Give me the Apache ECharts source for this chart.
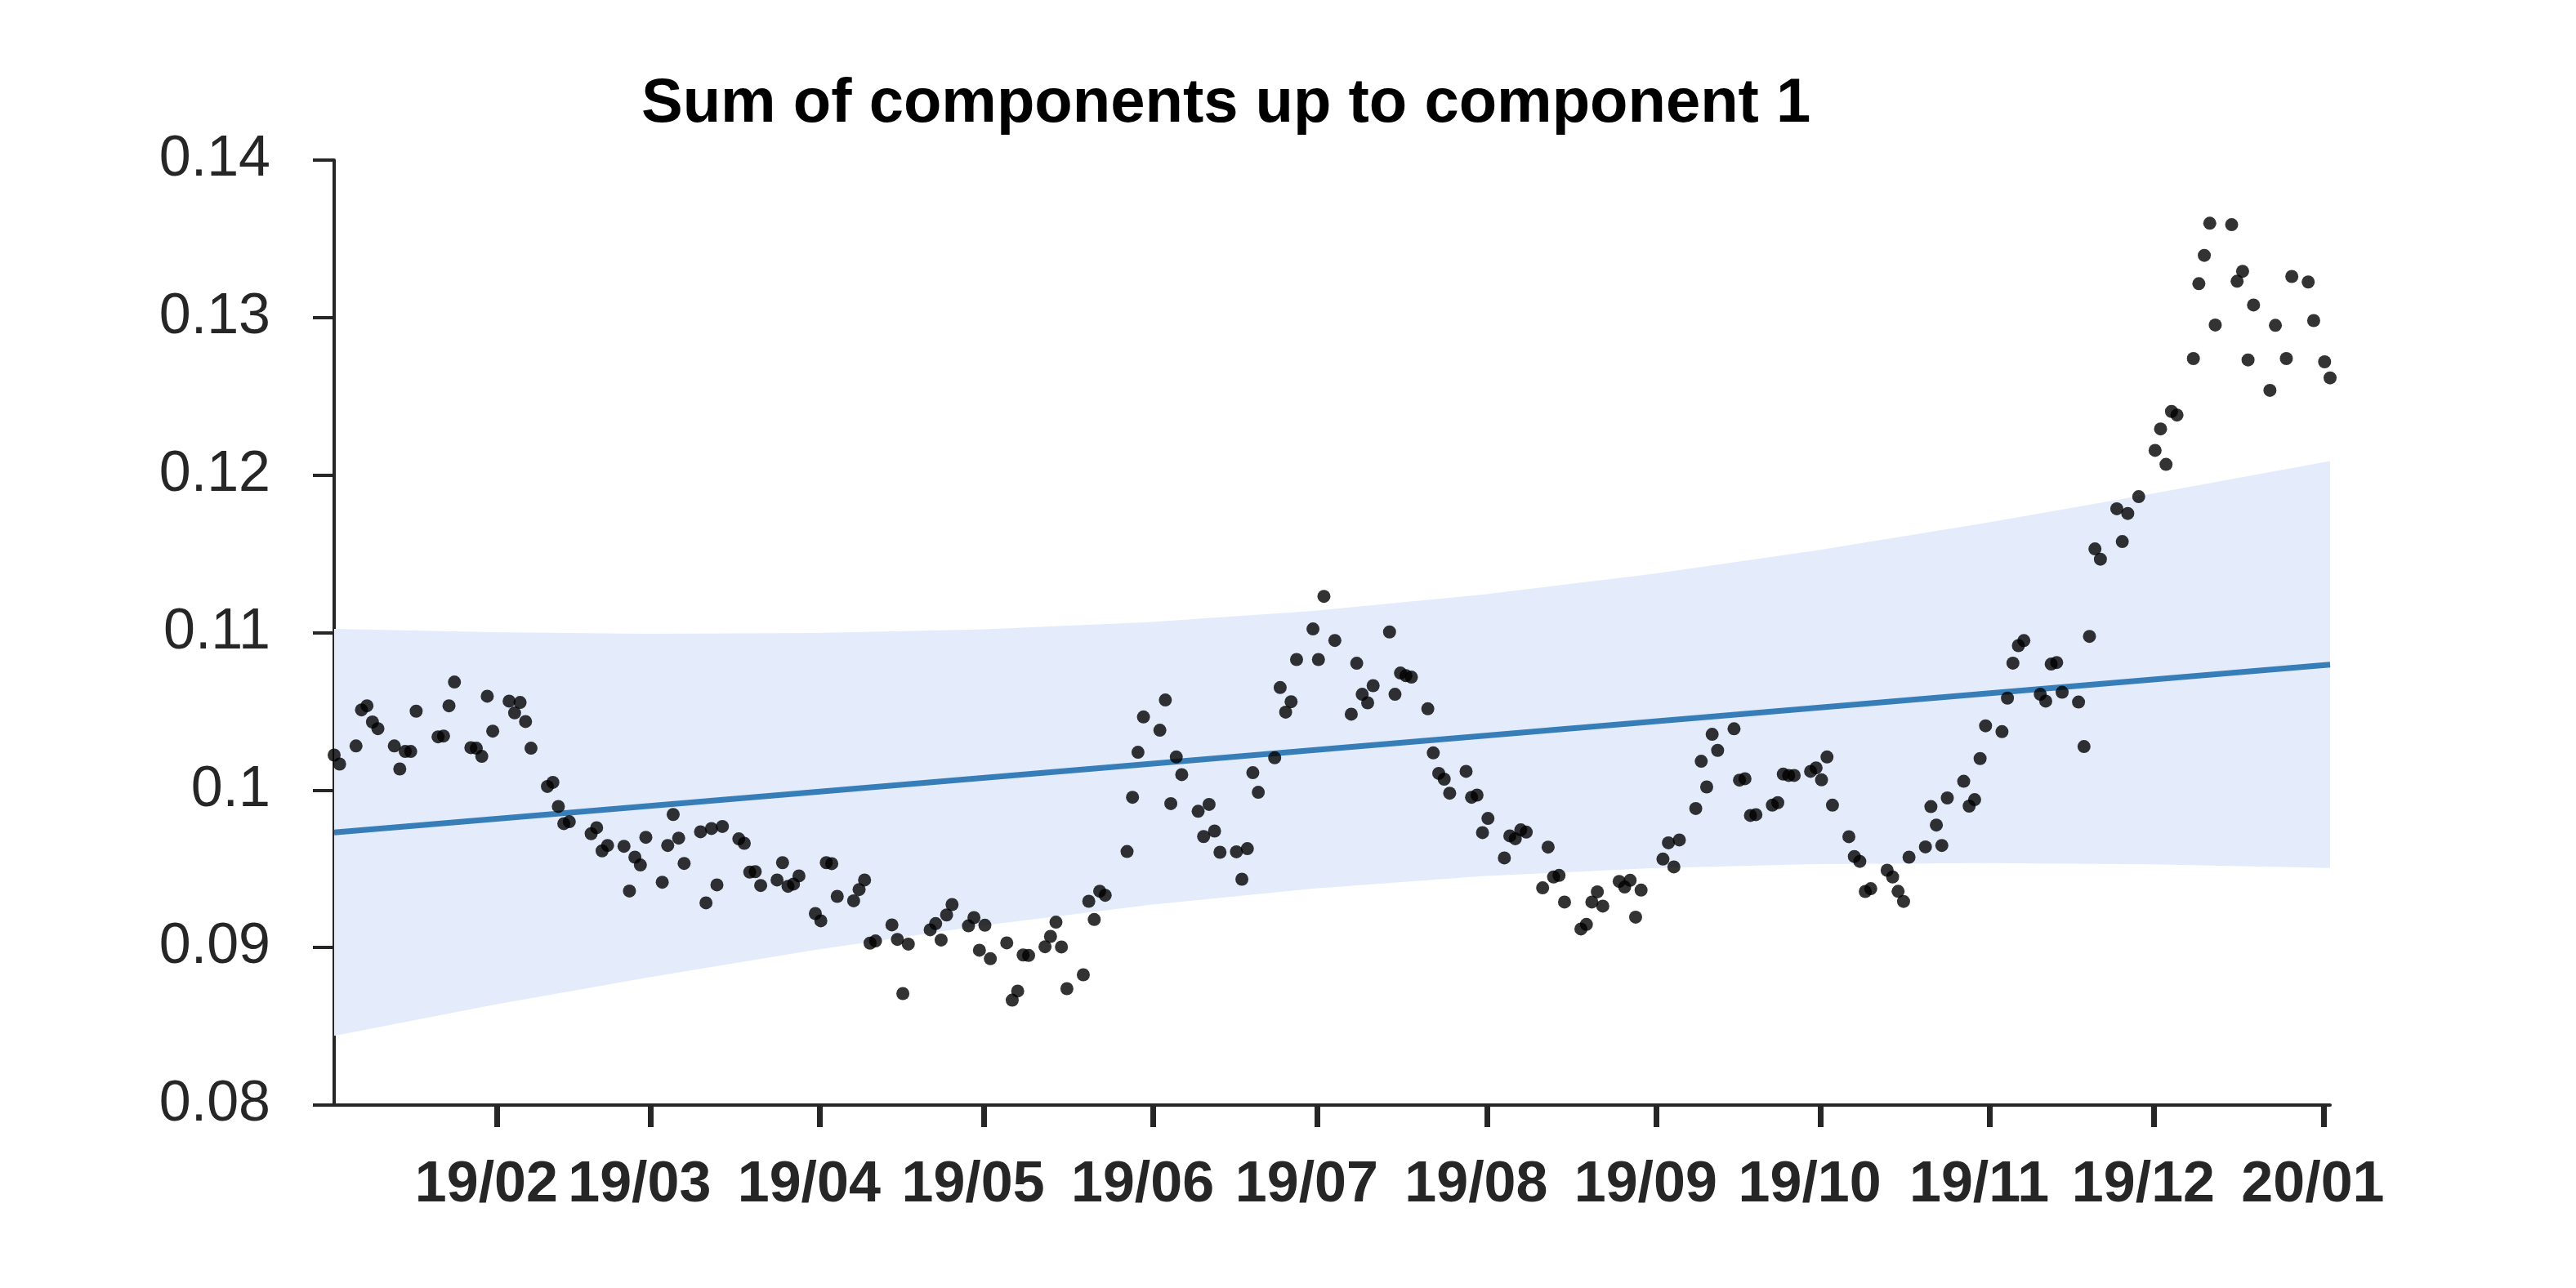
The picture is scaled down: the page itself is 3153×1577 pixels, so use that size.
<!DOCTYPE html>
<html>
<head>
<meta charset="utf-8">
<script src="https://cdn.jsdelivr.net/npm/echarts@6.0.0/dist/echarts.min.js"></script>
<style>
html, body { margin: 0; padding: 0; background: #ffffff; }
#chart { width: 3153px; height: 1577px; }
</style>
</head>
<body>
<div id="chart"></div>
<script>
const chartTitle = 'Sum of components up to component 1';

// Trading dates (x) of the black dots
const dates = [
  '2019-01-03','2019-01-04','2019-01-07','2019-01-08','2019-01-09','2019-01-10','2019-01-11','2019-01-14','2019-01-15','2019-01-16','2019-01-17','2019-01-18','2019-01-22','2019-01-23','2019-01-24','2019-01-25','2019-01-28','2019-01-29','2019-01-30','2019-01-31',
  '2019-02-01','2019-02-04','2019-02-05','2019-02-06','2019-02-07','2019-02-08','2019-02-11','2019-02-12','2019-02-13','2019-02-14','2019-02-15','2019-02-19','2019-02-20','2019-02-21','2019-02-22','2019-02-25','2019-02-26','2019-02-27','2019-02-28',
  '2019-03-01','2019-03-04','2019-03-05','2019-03-06','2019-03-07','2019-03-08','2019-03-11','2019-03-12','2019-03-13','2019-03-14','2019-03-15','2019-03-18','2019-03-19','2019-03-20','2019-03-21','2019-03-22','2019-03-25','2019-03-26','2019-03-27','2019-03-28','2019-03-29',
  '2019-04-01','2019-04-02','2019-04-03','2019-04-04','2019-04-05','2019-04-08','2019-04-09','2019-04-10','2019-04-11','2019-04-12','2019-04-15','2019-04-16','2019-04-17','2019-04-18','2019-04-22','2019-04-23','2019-04-24','2019-04-25','2019-04-26','2019-04-29','2019-04-30',
  '2019-05-01','2019-05-02','2019-05-03','2019-05-06','2019-05-07','2019-05-08','2019-05-09','2019-05-10','2019-05-13','2019-05-14','2019-05-15','2019-05-16','2019-05-17','2019-05-20','2019-05-21','2019-05-22','2019-05-23','2019-05-24','2019-05-28','2019-05-29','2019-05-30','2019-05-31',
  '2019-06-03','2019-06-04','2019-06-05','2019-06-06','2019-06-07','2019-06-10','2019-06-11','2019-06-12','2019-06-13','2019-06-14','2019-06-17','2019-06-18','2019-06-19','2019-06-20','2019-06-21','2019-06-24','2019-06-25','2019-06-26','2019-06-27','2019-06-28',
  '2019-07-01','2019-07-02','2019-07-03','2019-07-05','2019-07-08','2019-07-09','2019-07-10','2019-07-11','2019-07-12','2019-07-15','2019-07-16','2019-07-17','2019-07-18','2019-07-19','2019-07-22','2019-07-23','2019-07-24','2019-07-25','2019-07-26','2019-07-29','2019-07-30','2019-07-31',
  '2019-08-01','2019-08-02','2019-08-05','2019-08-06','2019-08-07','2019-08-08','2019-08-09','2019-08-12','2019-08-13','2019-08-14','2019-08-15','2019-08-16','2019-08-19','2019-08-20','2019-08-21','2019-08-22','2019-08-23','2019-08-26','2019-08-27','2019-08-28','2019-08-29','2019-08-30',
  '2019-09-03','2019-09-04','2019-09-05','2019-09-06','2019-09-09','2019-09-10','2019-09-11','2019-09-12','2019-09-13','2019-09-16','2019-09-17','2019-09-18','2019-09-19','2019-09-20','2019-09-23','2019-09-24','2019-09-25','2019-09-26','2019-09-27','2019-09-30',
  '2019-10-01','2019-10-02','2019-10-03','2019-10-04','2019-10-07','2019-10-08','2019-10-09','2019-10-10','2019-10-11','2019-10-14','2019-10-15','2019-10-16','2019-10-17','2019-10-18','2019-10-21','2019-10-22','2019-10-23','2019-10-24','2019-10-25','2019-10-28','2019-10-29','2019-10-30','2019-10-31',
  '2019-11-01','2019-11-04','2019-11-05','2019-11-06','2019-11-07','2019-11-08','2019-11-11','2019-11-12','2019-11-13','2019-11-14','2019-11-15','2019-11-18','2019-11-19','2019-11-20','2019-11-21','2019-11-22','2019-11-25','2019-11-26','2019-11-27','2019-11-29',
  '2019-12-02','2019-12-03','2019-12-04','2019-12-05','2019-12-06','2019-12-09','2019-12-10','2019-12-11','2019-12-12','2019-12-13','2019-12-16','2019-12-17','2019-12-18','2019-12-19','2019-12-20','2019-12-23','2019-12-24','2019-12-26','2019-12-27','2019-12-30','2019-12-31',
  '2020-01-02','2020-01-03'
];

// Dot values
const values = [
  0.10222,0.10165,0.10280,0.10509,0.10535,0.10432,0.10390,0.10280,0.10134,0.10245,0.10245,0.10501,0.10338,0.10343,0.10535,0.10686,0.10269,0.10266,0.10214,0.10596,
  0.10374,0.10565,0.10490,0.10556,0.10435,0.10266,0.10023,0.10049,0.09896,0.09787,0.09799,0.09723,0.09761,0.09614,0.09648,0.09643,0.09359,0.09574,0.09524,
  0.09700,0.09415,0.09648,0.09845,0.09695,0.09534,0.09735,0.09284,0.09756,0.09398,0.09769,0.09690,0.09662,0.09479,0.09482,0.09394,0.09429,0.09539,0.09389,0.09403,0.09455,
  0.09216,0.09170,0.09539,0.09533,0.09325,0.09297,0.09368,0.09429,0.09028,0.09042,0.09144,0.09052,0.08708,0.09022,0.09113,0.09152,0.09048,0.09207,0.09273,0.09138,0.09190,
  0.08983,0.09142,0.08929,0.09030,0.08666,0.08724,0.08953,0.08950,0.09005,0.09071,0.09161,0.09004,0.08739,0.08827,0.09294,0.09178,0.09358,0.09332,0.09610,0.09954,0.10240,0.10464,
  0.10380,0.10572,0.09914,0.10210,0.10098,0.09865,0.09705,0.09909,0.09740,0.09605,0.09608,0.09434,0.09628,0.10110,0.09986,0.10205,0.10651,0.10495,0.10561,0.10829,
  0.11023,0.10829,0.11230,0.10950,0.10482,0.10805,0.10608,0.10554,0.10663,0.11004,0.10608,0.10743,0.10726,0.10717,0.10516,0.10236,0.10106,0.10069,0.09980,0.10119,0.09954,0.09968,
  0.09730,0.09820,0.09569,0.09709,0.09691,0.09747,0.09733,0.09379,0.09638,0.09448,0.09458,0.09289,0.09118,0.09147,0.09289,0.09354,0.09263,0.09420,0.09384,0.09427,0.09193,0.09365,
  0.09562,0.09665,0.09512,0.09683,0.09883,0.10183,0.10020,0.10354,0.10252,0.10389,0.10063,0.10072,0.09839,0.09844,0.09904,0.09920,0.10101,0.10093,0.10093,0.10119,
  0.10141,0.10065,0.10210,0.09904,0.09704,0.09578,0.09547,0.09356,0.09374,0.09491,0.09448,0.09357,0.09293,0.09574,0.09639,0.09895,0.09778,0.09648,0.09950,0.10056,0.09898,0.09939,0.10200,
  0.10408,0.10371,0.10584,0.10806,0.10917,0.10949,0.10608,0.10565,0.10800,0.10810,0.10621,0.10559,0.10276,0.10976,0.11531,0.11466,0.11786,0.11578,0.11756,0.11863,
  0.12157,0.12293,0.12068,0.12404,0.12381,0.12740,0.13215,0.13395,0.13599,0.12953,0.13590,0.13231,0.13294,0.12731,0.13080,0.12538,0.12951,0.12740,0.13261,0.13226,0.12981,
  0.12719,0.12617
];

// Trend line end points
const trendDates = ['2019-01-03', '2020-01-03'];
const trendValues = [0.09731, 0.10797];

// Shaded band (read at several dates)
const bandDates = ['2019-01-03','2019-02-01','2019-03-01','2019-04-01','2019-05-01','2019-06-01','2019-07-01','2019-08-01','2019-09-01','2019-10-01','2019-11-01','2019-12-01','2020-01-03'];
const bandUpper = [0.11023,0.11002,0.10992,0.10997,0.11019,0.11066,0.11138,0.11241,0.11372,0.11521,0.11696,0.11879,0.12089];
const bandLower = [0.08440,0.08635,0.08808,0.08985,0.09137,0.09270,0.09374,0.09453,0.09504,0.09530,0.09536,0.09528,0.09505];

// Axis ticks
const xTickDates = ['2019-02-01','2019-03-01','2019-04-01','2019-05-01','2019-06-01','2019-07-01','2019-08-01','2019-09-01','2019-10-01','2019-11-01','2019-12-01','2020-01-01'];
const xTickLabels = ['19/02','19/03','19/04','19/05','19/06','19/07','19/08','19/09','19/10','19/11','19/12','20/01'];
const xRange = ['2019-01-03', '2020-01-03'];
const yMin = 0.08, yMax = 0.14, yStep = 0.01;

function ts(s) {
  const p = s.split('-').map(Number);
  return Date.UTC(p[0], p[1] - 1, p[2]);
}
const TICK_SHIFT = 19 * 3600 * 1000;
const tickValues = xTickDates.map(d => ts(d) + TICK_SHIFT);
function tickLabel(v) {
  let best = -1, bd = Infinity;
  tickValues.forEach((t, i) => { const d = Math.abs(t - v); if (d < bd) { bd = d; best = i; } });
  return bd < 86400000 ? xTickLabels[best] : '';
}

const FONT = "'Liberation Sans', Arial, Helvetica, sans-serif";
const AX = '#262626';

const chart = echarts.init(document.getElementById('chart'), null, { renderer: 'canvas' });
chart.setOption({
  backgroundColor: '#ffffff',
  animation: false,
  title: {
    text: chartTitle,
    left: 785, top: 90, padding: 0,
    textStyle: { fontFamily: FONT, fontSize: 76, fontWeight: 'bold', color: '#000000', lineHeight: 76 }
  },
  grid: { left: 409, right: 301, top: 196, bottom: 224, containLabel: false, outerBoundsMode: 'none' },
  xAxis: {
    type: 'value',
    min: ts(xRange[0]), max: ts(xRange[1]),
    splitLine: { show: false },
    axisLine: { show: true, lineStyle: { color: AX, width: 4 } },
    axisTick: { show: true, customValues: tickValues, length: 27, lineStyle: { color: AX, width: 7 } },
    axisLabel: {
      customValues: tickValues, formatter: tickLabel,
      margin: 64, fontFamily: FONT, fontSize: 70, fontWeight: 'bold', color: AX,
      padding: [0, 26, 0, 0]
    }
  },
  yAxis: {
    type: 'value', min: yMin, max: yMax, interval: yStep,
    splitLine: { show: false },
    axisLine: { show: true, lineStyle: { color: AX, width: 4 } },
    axisTick: { show: true, length: 26, lineStyle: { color: AX, width: 4 } },
    axisLabel: { margin: 78, fontFamily: FONT, fontSize: 70, color: AX }
  },
  series: [
    {
      type: 'custom', z: 1, silent: true,
      data: bandDates.map((d, i) => [ts(d), bandLower[i], bandUpper[i]]),
      encode: { x: 0, y: [1, 2] },
      renderItem: function (params, api) {
        if (params.dataIndex !== 0) return null;
        const up = bandDates.map((d, i) => api.coord([ts(d), bandUpper[i]]));
        const lo = bandDates.map((d, i) => api.coord([ts(d), bandLower[i]])).reverse();
        return {
          type: 'polygon',
          shape: { points: up.concat(lo) },
          style: { fill: '#e4ecfc' }
        };
      }
    },
    {
      type: 'line', z: 2, symbol: 'none', silent: true,
      lineStyle: { color: '#377eb8', width: 7 },
      data: trendDates.map((d, i) => [ts(d), trendValues[i]])
    },
    {
      type: 'scatter', z: 3, clip: false,
      symbolSize: 16, itemStyle: { color: '#000000' },
      data: dates.map((d, i) => [ts(d), values[i]])
    }
  ]
});
</script>
</body>
</html>
